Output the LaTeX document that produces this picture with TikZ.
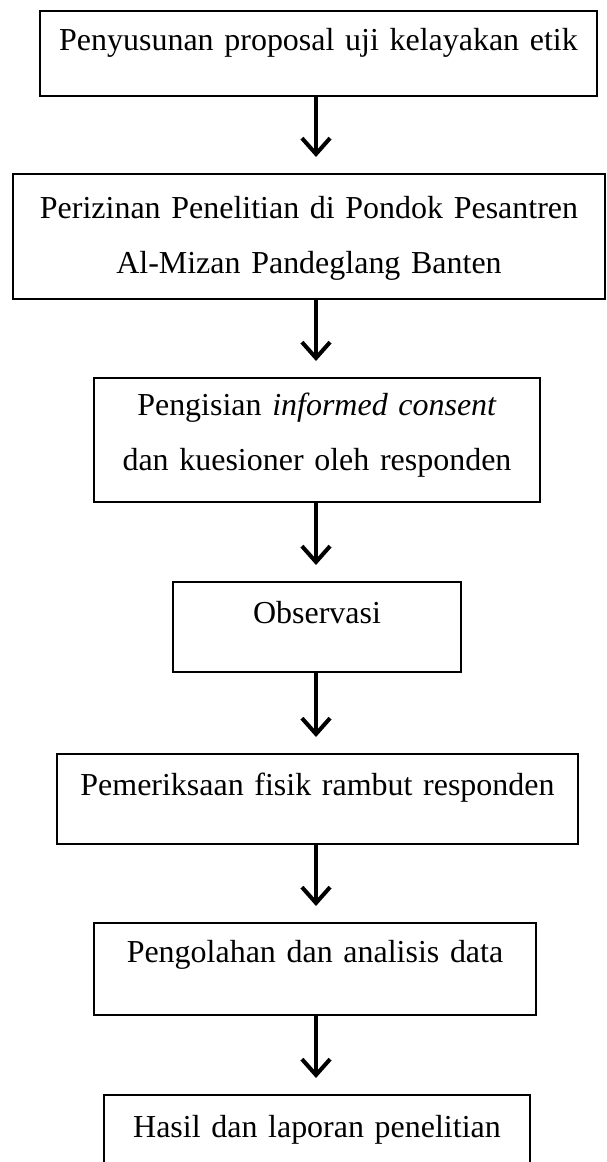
\documentclass[tikz,border=0pt]{standalone}
\usepackage{fontspec}
\setmainfont{Liberation Serif}
\usetikzlibrary{arrows.meta}

\begin{document}
\begin{tikzpicture}[x=0.02cm, y=-0.02cm,
    kotak/.style={draw, line width=1.1pt, inner sep=0pt, anchor=north, align=center,
        font=\fontsize{18.2}{30.8}\selectfont},
    panah/.style={line width=2.3pt, -{Straight Barb[length=9pt,width=16pt]}, shorten >=0.32cm}]
        \useasboundingbox (0,0) rectangle (607,1162);
        \clip (0,0) rectangle (607,1162);
        \coordinate (sumbu) at (316,0);
        \node[kotak, text width=11.14cm, text height=0.80cm, text depth=0.90cm] (b1) at (318.5,10)
            {Penyusunan proposal uji kelayakan etik};
        \node[kotak, text width=11.84cm, text height=0.90cm, text depth=1.60cm] (b2) at (309,173)
            {Perizinan Penelitian di Pondok Pesantren\\Al-Mizan Pandeglang Banten};
        \node[kotak, text width=8.92cm, text height=0.76cm, text depth=1.72cm] (b3) at (317,377)
            {Pengisian \textit{informed consent}\\dan kuesioner oleh responden};
        \node[kotak, text width=5.76cm, text height=0.84cm, text depth=0.96cm] (b4) at (317,581)
            {Observasi};
        \node[kotak, text width=10.42cm, text height=0.84cm, text depth=0.96cm] (b5) at (317.5,753)
            {Pemeriksaan fisik rambut responden};
        \node[kotak, text width=8.84cm, text height=0.80cm, text depth=1.04cm] (b6) at (315,922)
            {Pengolahan dan analisis data};
        \node[kotak, text width=8.52cm, text height=0.86cm, text depth=1.14cm] (b7) at (317,1094)
            {Hasil dan laporan penelitian};
        % alur
        \draw[panah] (b1.south -| sumbu) -- (b2.north -| sumbu);
        \draw[panah] (b2.south -| sumbu) -- (b3.north -| sumbu);
        \draw[panah] (b3.south -| sumbu) -- (b4.north -| sumbu);
        \draw[panah] (b4.south -| sumbu) -- (b5.north -| sumbu);
        \draw[panah] (b5.south -| sumbu) -- (b6.north -| sumbu);
        \draw[panah] (b6.south -| sumbu) -- (b7.north -| sumbu);
\end{tikzpicture}
\end{document}
